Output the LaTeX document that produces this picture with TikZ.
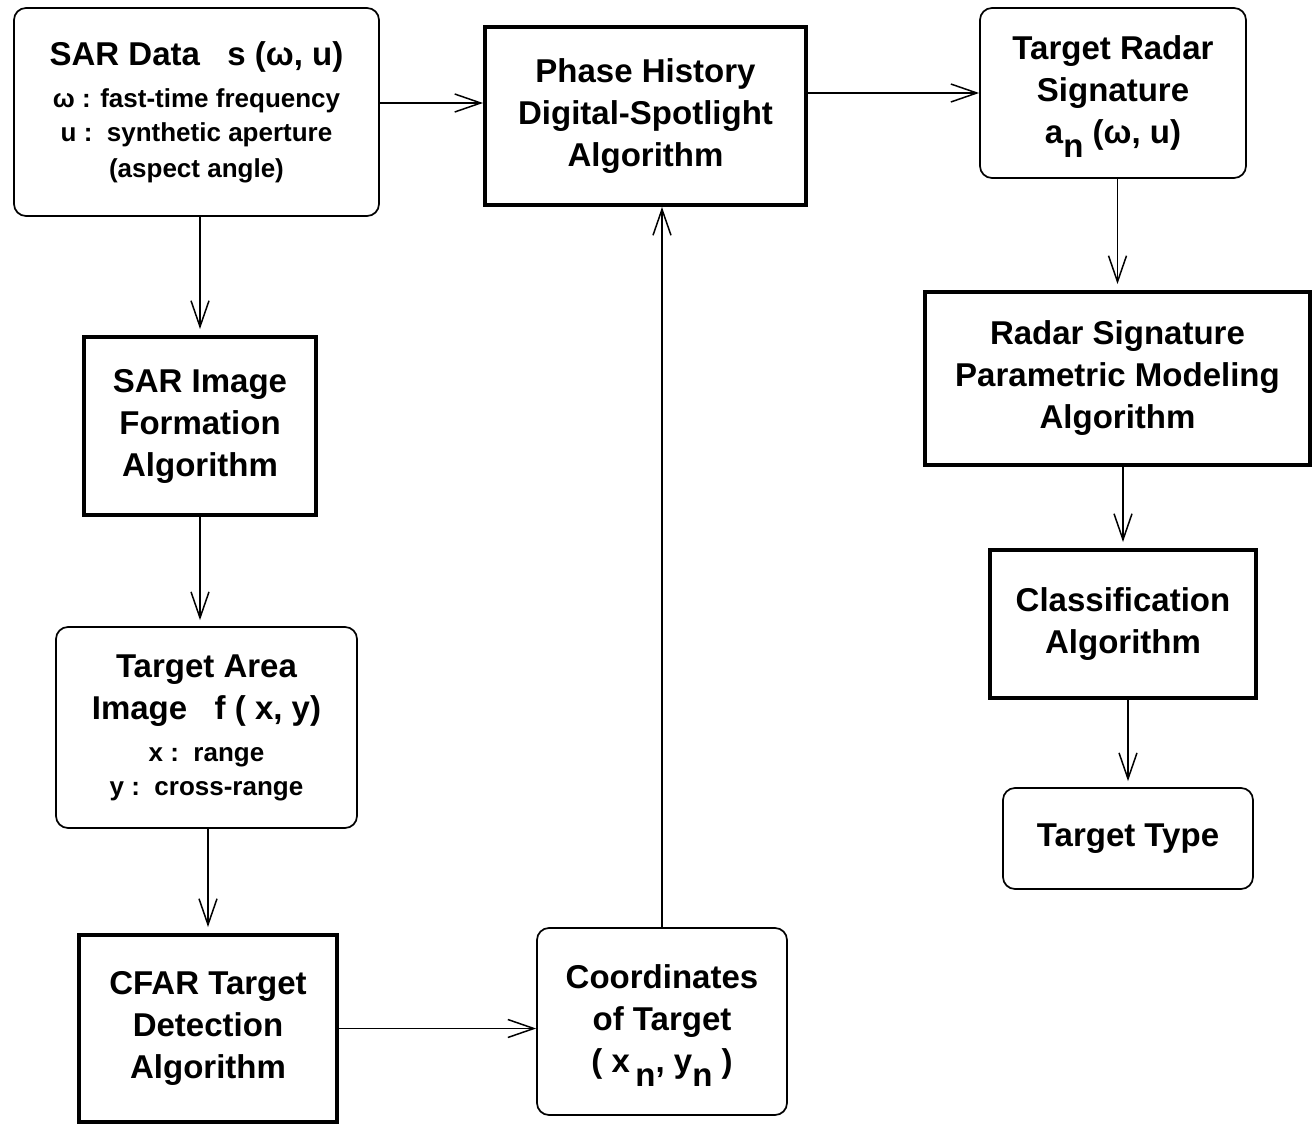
\documentclass[tikz,border=0pt]{standalone}
\usepackage{fontspec}
\setmainfont{Liberation Sans}
\usetikzlibrary{arrows.meta}
\newcommand{\bigf}{\bfseries\fontsize{33}{42}\selectfont}
\newcommand{\subf}{\bfseries\fontsize{26}{35}\selectfont}
\newcommand{\smf}{\bfseries\fontsize{26}{34}\selectfont}
\newcommand{\sbn}{\smash{\raisebox{-14pt}{n}}}
\begin{document}
\begin{tikzpicture}[x=1pt,y=-1pt,
  rbox/.style={draw, rounded corners=12pt, line width=1.7pt, align=center, inner sep=0pt, font=\bigf},
  sbox/.style={draw, line width=4pt, align=center, inner sep=0pt, font=\bigf},
  arr/.style={line width=1.5pt, -{Straight Barb[length=26pt,width=18pt,line width=1.5pt]}},
  varr/.style={arr, shorten >=6pt}]
\useasboundingbox (0,0) rectangle (1315,1124);

\node[rbox, minimum width=365pt, minimum height=208pt] (sar) at (196.5,112)
  {SAR Data~~~s (ω, u)\\\subf ω : fast-time frequency\\[-8pt] \subf u :~~synthetic aperture\\[-6pt] \subf (aspect angle)};
\node[sbox, minimum width=321pt, minimum height=178pt] (phase) at (645.5,116)
  {Phase History\\Digital-Spotlight\\Algorithm};
\node[rbox, minimum width=266pt, minimum height=170pt] (trs) at (1113,93)
  {Target Radar\\Signature\\a\sbn\ (ω, u)};
\node[sbox, minimum width=232pt, minimum height=178pt] (sif) at (200,426)
  {SAR Image\\Formation\\Algorithm};
\node[sbox, minimum width=385pt, minimum height=173pt] (rsp) at (1117.5,378.5)
  {Radar Signature\\Parametric Modeling\\Algorithm};
\node[sbox, minimum width=266pt, minimum height=148pt] (cls) at (1123,624)
  {Classification\\Algorithm};
\node[rbox, minimum width=301pt, minimum height=201pt] (tai) at (206.5,727.5)
  {Target Area\\Image~~~f ( x, y)\\\smf x :~~range\\[-8pt] \smf y :~~cross-range};
\node[rbox, minimum width=250pt, minimum height=101pt] (tt) at (1128,838.5)
  {Target Type};
\node[sbox, minimum width=258pt, minimum height=187pt] (cfar) at (208,1028.5)
  {CFAR Target\\Detection\\Algorithm};
\node[rbox, minimum width=250pt, minimum height=187pt] (coord) at (662,1021.5)
  {Coordinates\\of Target\\( x\,\sbn, y\sbn\ )};

\coordinate (h1) at (0,103);
\draw[arr] (sar.east |- h1) -- (phase.west |- h1);
\draw[arr] (phase.east |- trs.west) -- (trs.west);
\draw[varr] (sar.south -| sif.north) -- (sif.north);
\draw[varr] (sif.south) -- (sif.south |- tai.north);
\draw[varr] (tai.south -| cfar.north) -- (cfar.north);
\draw[arr] (cfar.east) -- (cfar.east -| coord.west);
\draw[arr] (coord.north) -- (coord.north |- phase.south);
\draw[varr] (trs.south -| rsp.north) -- (rsp.north);
\draw[varr] (rsp.south -| cls.north) -- (cls.north);
\draw[varr] (cls.south -| tt.north) -- (tt.north);
\end{tikzpicture}
\end{document}
